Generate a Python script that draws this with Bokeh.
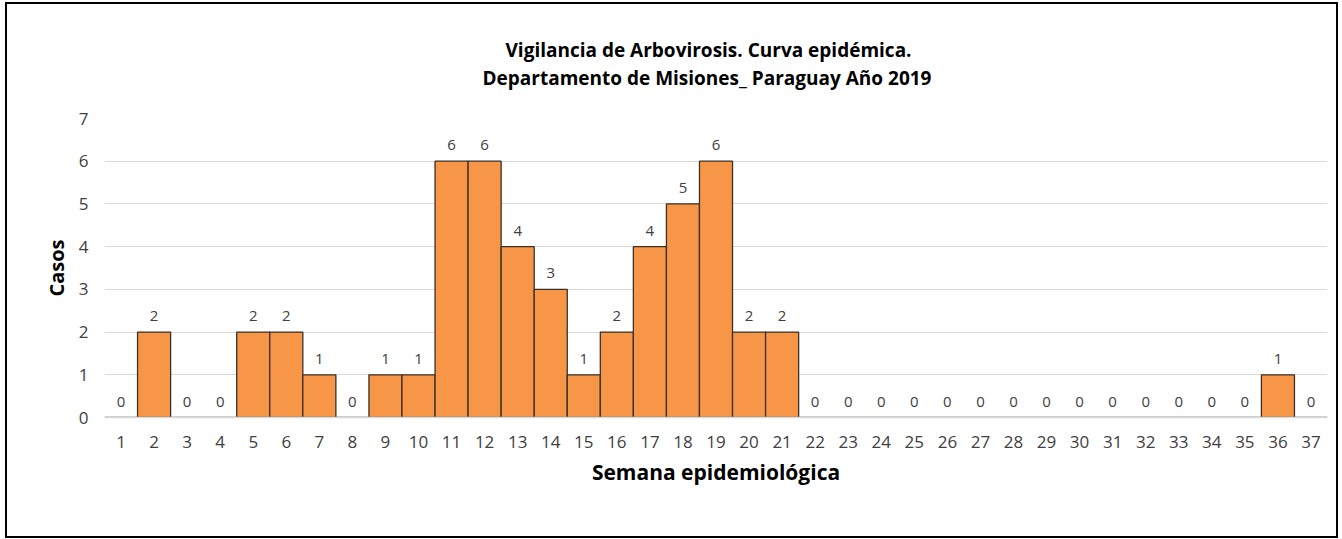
from bokeh.plotting import figure
from bokeh.models import ColumnDataSource, FactorRange, Range1d, FixedTicker, LabelSet, Title
from bokeh.core.properties import value
from bokeh.embed import file_html
from bokeh.resources import INLINE

weeks = [str(i) for i in range(1, 38)]
cases = [0, 2, 0, 0, 2, 2, 1, 0, 1, 1, 6, 6, 4, 3, 1, 2, 4, 5, 6, 2, 2,
         0, 0, 0, 0, 0, 0, 0, 0, 0, 0, 0, 0, 0, 0, 1, 0]
title_lines = ["Vigilancia de Arbovirosis. Curva epidémica.",
               "Departamento de Misiones_ Paraguay Año 2019"]
y_ticks = [0, 1, 2, 3, 4, 5, 6, 7]

FONT = "Open Sans"

src = ColumnDataSource(dict(week=weeks, cases=cases, lab=[str(c) for c in cases]))

p = figure(width=1333, height=536, output_backend="svg", toolbar_location=None,
           x_range=FactorRange(factors=weeks, range_padding=0),
           y_range=Range1d(0, 7),
           min_border_left=97, min_border_right=13, min_border_top=114, min_border_bottom=123)
p.styles = {"border": "2px solid #000000", "margin-left": "5px", "margin-top": "2px"}

p.vbar(x="week", top="cases", width=1.0, source=src,
       fill_color="#F79646", line_color="#3a3028", line_width=1.3)

labels = LabelSet(x="week", y="cases", text="lab", source=src, y_offset=11,
                  text_align="center", text_baseline="alphabetic",
                  text_font=value(FONT), text_font_size=value("15px"),
                  text_color=value("#404040"))
p.add_layout(labels)

p.outline_line_color = None
p.xgrid.grid_line_color = None
p.ygrid.grid_line_color = "#d9d9d9"
p.ygrid.grid_line_width = 1

p.yaxis.ticker = FixedTicker(ticks=y_ticks)
p.yaxis.axis_line_color = None
p.yaxis.major_tick_line_color = None
p.yaxis.minor_tick_line_color = None
p.yaxis.major_label_standoff = 10
p.yaxis.major_label_text_font = FONT
p.yaxis.major_label_text_font_size = "17px"
p.yaxis.major_label_text_color = "#404040"
p.yaxis.axis_label = "Casos"
p.yaxis.axis_label_text_font = FONT
p.yaxis.axis_label_text_font_size = "20px"
p.yaxis.axis_label_text_font_style = "bold"
p.yaxis.axis_label_text_color = "#000000"
p.yaxis.axis_label_standoff = 6

p.xaxis.axis_line_color = "#d9d9d9"
p.xaxis.axis_line_width = 1.5
p.xaxis.major_tick_line_color = None
p.xaxis.minor_tick_line_color = None
p.xaxis.major_label_standoff = 12
p.xaxis.major_label_text_font = FONT
p.xaxis.major_label_text_font_size = "17px"
p.xaxis.major_label_text_color = "#404040"
p.xaxis.axis_label = "Semana epidemiológica"
p.xaxis.axis_label_text_font = FONT
p.xaxis.axis_label_text_font_size = "21px"
p.xaxis.axis_label_text_font_style = "bold"
p.xaxis.axis_label_text_color = "#000000"
p.xaxis.axis_label_standoff = 7

# spacer between the frame and the title lines
p.add_layout(Title(text=" ", standoff=25, text_font_size="1px"), "above")
for txt, off in zip(reversed(title_lines), [378, 401]):
    p.add_layout(Title(text=txt, align="left", offset=off, standoff=0,
                       text_font=FONT, text_font_size="19px", text_font_style="bold",
                       text_color="#000000"), "above")

open("out.html", "w").write(file_html(p, INLINE))
